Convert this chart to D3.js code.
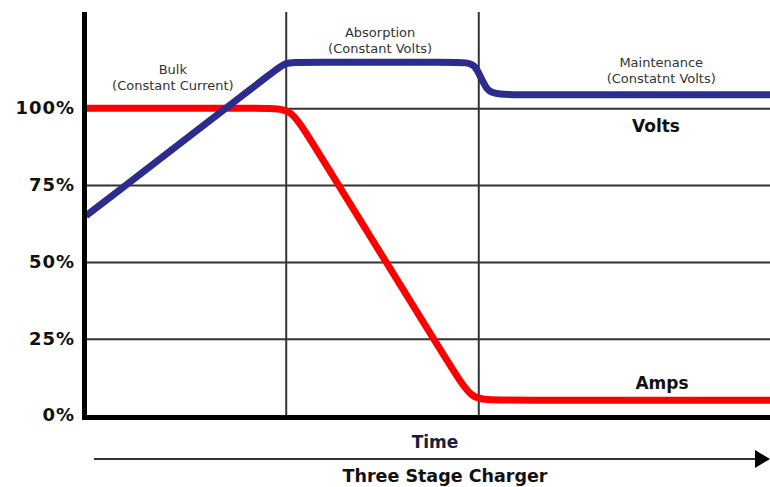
<!DOCTYPE html>
<html lang="en">
<head>
    <meta charset="UTF-8">
    <title>Three Stage Charger</title>
    <script src="https://d3js.org/d3.v7.min.js"></script>
    <style>
        body {
            margin: 0;
            background-color: #ffffff;
            font-family: "DejaVu Sans", Verdana, sans-serif;
        }

        .grid line {
            stroke: #333;
            stroke-width: 2px;
        }

        .ytick text {
            font-size: 18px;
            font-weight: bold;
            letter-spacing: 1px;
            fill: #111;
        }

        .stage text {
            font-size: 13px;
            fill: #333;
            text-anchor: middle;
        }

        .series-label {
            font-size: 17px;
            font-weight: bold;
            fill: #111;
            text-anchor: middle;
        }

        .curve {
            fill: none;
            stroke-width: 7px;
            stroke-linejoin: round;
        }
    </style>
</head>
<body>
<script>
    // time in % of the charge cycle, level in % of nominal
    const voltsTime  = [0, 27.5, 29.2, 31, 55, 57, 58.6, 61, 100];
    const voltsLevel = [65, 112.1, 115, 115, 115, 115, 104.4, 104.4, 104.4];

    const ampsTime  = [0, 27, 30, 33, 53.5, 56.4, 59.5, 100];
    const ampsLevel = [100, 100, 100, 89.1, 15.3, 5, 5, 5];

    const yTicks = [0, 25, 50, 75, 100];
    const stageEnds = [29.2, 57.35];
    const stageNames = ["Bulk", "Absorption", "Maintenance"];
    const stageModes = ["(Constant Current)", "(Constant Volts)", "(Constatnt Volts)"];

    // where the stage captions sit (time, baseline of first line)
    const stageLabelPos = [
        {t: 12.7, y: 74},
        {t: 43.0, y: 37},
        {t: 84.1, y: 67}
    ];

    const W = 770, H = 487;
    const plotLeft = 86, plotRight = 770, plotTop = 12, plotBottom = 417;

    const svg = d3.select("body").append("svg")
        .attr("width", W)
        .attr("height", H);

    const x = d3.scaleLinear().domain([0, 100]).range([plotLeft, plotRight]);
    const y = d3.scaleLinear().domain([0, 100]).range([415.5, 108.3]);

    // horizontal gridlines + percent labels
    const yAxis = svg.append("g")
        .attr("class", "grid ytick")
        .attr("transform", `translate(${plotLeft},0)`)
        .call(d3.axisLeft(y)
            .tickValues(yTicks)
            .tickFormat(d => d + "%")
            .tickSize(-(plotRight - plotLeft))
            .tickPadding(11));
    yAxis.select(".domain").remove();
    yAxis.selectAll("text")
        .attr("dy", "0.3em")
        .style("font-family", '"DejaVu Sans", Verdana, sans-serif');

    // stage boundaries
    const xAxis = svg.append("g")
        .attr("class", "grid")
        .attr("transform", `translate(0,${plotBottom})`)
        .call(d3.axisBottom(x)
            .tickValues(stageEnds)
            .tickFormat("")
            .tickSize(-(plotBottom - plotTop)));
    xAxis.select(".domain").remove();

    // stage captions
    const stage = svg.append("g").attr("class", "stage");
    stageNames.forEach((name, i) => {
        const p = stageLabelPos[i];
        stage.append("text")
            .attr("x", x(p.t))
            .attr("y", p.y)
            .text(name);
        stage.append("text")
            .attr("x", x(p.t))
            .attr("y", p.y + 16)
            .text(stageModes[i]);
    });

    const line = d3.line()
        .x(d => x(d[0]))
        .y(d => y(d[1]))
        .curve(d3.curveBasis);

    svg.append("path")
        .attr("class", "curve")
        .attr("stroke", "#ff0000")
        .attr("d", line(d3.zip(ampsTime, ampsLevel)));

    svg.append("path")
        .attr("class", "curve")
        .attr("stroke", "#2b2c8e")
        .attr("d", line(d3.zip(voltsTime, voltsLevel)));

    // thick axis lines
    svg.append("line")
        .attr("x1", 84.5).attr("x2", 84.5)
        .attr("y1", plotTop).attr("y2", 420)
        .attr("stroke", "#000").attr("stroke-width", 5);
    svg.append("line")
        .attr("x1", 82).attr("x2", plotRight)
        .attr("y1", 417.5).attr("y2", 417.5)
        .attr("stroke", "#000").attr("stroke-width", 5);

    svg.append("text")
        .attr("class", "series-label")
        .attr("x", 656).attr("y", 132)
        .text("Volts");
    svg.append("text")
        .attr("class", "series-label")
        .attr("x", 662).attr("y", 389)
        .text("Amps");

    svg.append("text")
        .attr("class", "series-label")
        .attr("x", 435).attr("y", 448)
        .style("fill", "#1c1c3a")
        .text("Time");

    // time arrow
    svg.append("line")
        .attr("x1", 94).attr("x2", 758)
        .attr("y1", 459).attr("y2", 459)
        .attr("stroke", "#333").attr("stroke-width", 2);
    svg.append("path")
        .attr("d", "M755,450L770,459L755,468Z")
        .attr("fill", "#000");

    svg.append("text")
        .attr("class", "series-label")
        .attr("x", 445).attr("y", 482)
        .style("font-size", "17.5px")
        .text("Three Stage Charger");
</script>
</body>
</html>
